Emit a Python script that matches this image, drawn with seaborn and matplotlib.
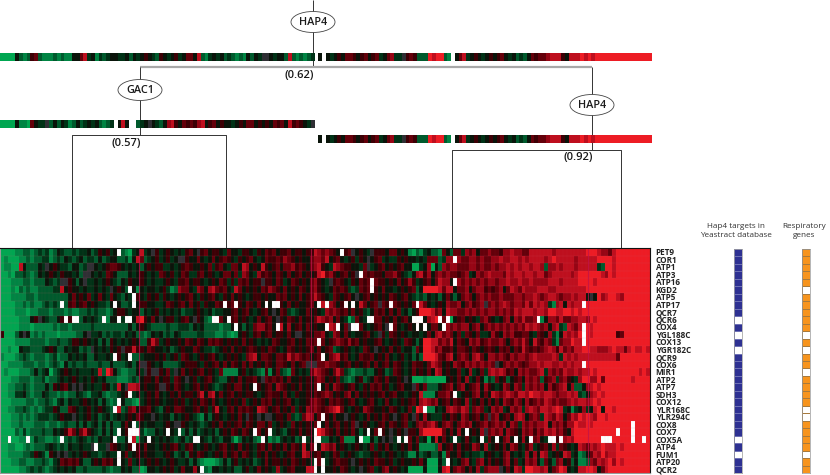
import numpy as np
import seaborn as sns
import matplotlib
matplotlib.use('Agg')
import matplotlib.pyplot as plt
from matplotlib.colors import ListedColormap
from matplotlib.patches import Ellipse

W, H = 830, 475

genes = ['PET9', 'COR1', 'ATP1', 'ATP3', 'ATP16', 'KGD2', 'ATP5', 'ATP17', 'QCR7', 'QCR6',
         'COX4', 'YGL188C', 'COX13', 'YGR182C', 'QCR9', 'COX6', 'MIR1', 'ATP2', 'ATP7', 'SDH3',
         'COX12', 'YLR168C', 'YLR294C', 'COX8', 'COX7', 'COX5A', 'ATP4', 'FUM1', 'ATP20', 'QCR2']

hap4_targets = [1,1,1,1,1,1,1,1,1,0,1,0,1,0,1,1,1,1,1,1,1,1,1,1,1,0,1,0,1,1]
respiratory  = [1,1,1,1,1,0,1,1,1,1,1,0,1,0,1,1,0,1,1,1,1,0,0,1,1,1,1,0,1,1]

# expression read by eye, one letter per cell, a=strong green ... 0=black ... i=strong red
levels = 'abcd0nefghi'
colors = ['#00a651', '#008443', '#005a2d', '#003216', '#0a140a', '#2f2f34',
          '#3c0005', '#64000a', '#960514', '#be0f1e', '#ed1c24']

expr_rows = [
 'aaaabbccbc dcdbc0dccd cdd0cde0ed 0ccbad0hd0 ned0e0d0de f0nef0ee0d f00dee0de0 fef0eef0ee 0eehgfgfe0 fefn0e0dne ee0ff0e0ba cbd0ccbf0c ffdgfg0ffg ffegghggff hhhhhhghhh hhhhhiiihg gfhiiiiiii ii',
 'abaaabbcbc cddbcdc0dc d0cddc0cd0 0ccdb0hfcd 0ed0ed0nne 00f0d0f0ef e0de0ef0d0 feefegfe0e 00fggfh0ef 0d0ede0n0e fd0dde0e00 d0dfffcdgg fgffggfgff gghgghhghg hhhhghihhh hhghhhhhii iihiiiiiii ii',
 'abbaah0ccc 0dn0e0ddc0 0cdnn0d0ef fe0d0d0c0e 0eedd0d0ef e00e0fdef0 dff0hg0e0h e0ef0ffgef e0fghe0dhg fee00dfnd0 ef0e0ef00a ad0ga0cgfg gfffggfgff gfgghghghh ghhgcgghgh hhghhhhhdc iihiiiiiii ii',
 'aabaccdcbc 0d0e0de00d 0cnn0d0dfe 0ccc0d0e0d 0dfe0ed0fe ddef0e0d0f f0fdgf0dge fe0fe0f0ef 0e0ehifge0 ef0en0fefe e0ffge0dc0 gheg0fgfgf fefgd0gfgh gggfhghhgh hghhfghhhh hghiiiiiih gihiiiiiii ii',
 'aaabbbccbc cc0dcdnne0 c0ndd0d0e0 dc0de00e0d 0dd0e0deef 0ee0d0e0fe dedfef0een ee0fed0fe0 e0fge0dnef e0de0fef0f ee0e0f0ege d0ef0fhgg0 ggfgfgfgfg gfgghgghgg hgggghhhgh hhhiiiihii iiiiiiiiii ii',
 'aaabacbcbb ccccddh0e0 0d0dd0d0dn 0e0c00b0d0 0d0edbcgff 0dgf0ghfef 0dhf0e0e0f egfe0f0e0f e0fge0d0fe fedcdfef0e 0f00d0e0ef c0iiiihfhh 0ffg0fggef efg0fhgfhg gghhhgghhh hhhhhiiiii iiiiiiiiii ii',
 'aaabbbbccb cccccccc0f 0e0fd0f0df 0dc0dge0de 0ede0d0e0e f0de0ef0de 0f0e0d0ee0 e00fef0e0f 0efhfe0dfe 0ef0n0ef0e 0e0fe0ef0d cdc0d0c0f0 c0fgf0fgfg ffgfffggfg ghgfghhgfg ghghh0n0ig hiihgiiiii ii',
 'aaaabbcbcb bcdcdcdcef 0ef0e0ddc0 00ccd00ee0 0dd0fe0ef0 f0ede00fe0 ef0e0fe0f0 e0f0e0f0e0 0ef0ghfgf0 ee0f0hf0ef nfe0fe0e0f ehf0d0e0gf fg0fgefgnf gfghgfggfh fhghgdbgh0 hghhiiiiii iiiiiiiiii ii',
 'aaaabbbabb cccbcccbcb bccdcdccbc 0ee0d00c0d 0ed0d0d0cd d0e0d0cdd0 0ef0ef0d0e f0n0fedcd0 0f0e0dgfgf ef0f0edc0f ef0f0fd0c0 eiiihfg0hg gffgfgfgfg gfgfgfhghh hghhgiihhi ihihiiiiii iiiiiiiiii ii',
 'aaaaabbb0e n0dcc0e0e0 dc0d0dcbb0 0dd0b0hie0 f0n0eed0ef 0ne0cb0cf0 0ef0e0d0f0 ef0ne0fe0f 0e0fhgfg0f 0dacf0d0ff f0e0f0ef0b bc0ghi0fga 0ef0e0dfge 0d0fg0gfhf fgab0ggfhf fgghhgihii iiiiiiiiii ii',
 'aaaaabbbab bbbbcbccbc ccccdccccc cccc0c0e0d ccccdccddd c0d0ccccbc c0d0c0dfgg ef0eh0g0ef 0f0e00ghge 0fnfgf0d0e f0n0f0d0e0 d0e0ff0dgf gfgg0fg0fg fgfgfgfgfh ghgfg0ghdc hgfhhihiii iiiiiiiiii ii',
 'eaaac0n0bc bcbbbabbbb cc0ndd0cdc ddc0d0ccbc 0d0cdc0dcc ccddcccbbc bab0e0def0 ef0ee0f0nn 0e0ffg0dgf 0f0d00ef0d nedfe0e0d0 0d0f0ghfgf 0fdfe0fdd0 ge0gfgeeff 0dfe0gdb0h ghgihihiii iiiefiiiii ii',
 'aaaabbbbcc ccbccdccde e0e0d0c0ce 0d0d0e0cce hfd0e00e0f e0fe0fefe0 e0e0f0e0d0 d0fe00ef0e 0fefhf0efg fegef0e00e f0d0e0dfe0 c0iihhfgfh 0fe0gfgefg ffgf0fgfhf 0hfegfdbfg gihhiiiiii iiiiiiiiii ii',
 'aabaa0ddcc cd0e0cc0d0 0cdcn0d0de 0eneehee0f e00d0cd0e0 0fe0ddcd0e 0f0e0efe0e 0fe0d0fe0e 0ef0f0efcd 0e0d0dfe0n 0e0f0ed00c f0iihfgeef 0ffe0fe0ef e0fef0fehf efefghgehf gfhhiihhgg ghihhfhihh ih',
 'baaabcdcbc ccbcdbcc0d 0d0cc0dd0d 0ed0cccd00 0e0ed0edfe 0d0e0ef0d0 e0e0dfgh0f fe0ffehfgf ef0efe0fgh ef0d0feef0 e0f0d0ed0c 0ciiihfegh 0fgf0ghf0g gfgfegfggf ghgggghgdh ghghhhhhhh hhhfiiiiii ii',
 'aabbbbcccb ccbcdcb0cd ccdcccdcc0 cccd0c0nne 0d0ccccd0e ee0de0ef0f 0fe0f0f0e0 fe0ffe0f0e fnnnffgffe 0ef0e0ef0f 0ef0fe0d0f ee0fhgf0e0 gfegfgfgfg fn0fgfgfef gghghhgghg hghhhiiiii iiiiiiiiii ii',
 'abaaabbbc0 cd0acd0e0d 0ddd0dhcig 0cbbcc0dne nne0fdn0f0 e0ef0e0dfb bbb0ed0dcb eb0fdcbf0d 0dfhgfe0fh fdcbccdcc0 e0cdfe0d0f 0e0f0hg0e0 0fd0gd0fdg hghgef0gfg ffghdgfgfh gghghhihii iiiiiiiiih ih',
 'aaabbcccbc cdbccd0d0e 0d0de0d0cc cbbbcdc0ee 0f0eedfe0n 0ed0ef0dcc 0e0f0eef0n fefef0f00e 0e0fgf0e0f dcbc0ecd0f e0f00e0n0a aabaaaaa0e 0f0gd0f0bd cf0ec0ef0g fgfcefgdfg e0dgiiggif iiiiiiihii ii',
 'aabbccdcbc cc0ce0ef0n 0n0d0dde0c dh0nhhg0e0 0enne0fe0d 0ef0e0dcd0 e0ff0e0fe0 ef0gfe0e0f 0e0fe0f0gf e0ef0de0fe f0ed0ef00n f0fccc0efg 0fg0efg0ge 0d0gf0gfdg fgfg0gefgh 0gcc0ghihi iiiiiiiiii ii',
 'aabbdd0cbc c0dccbcbcc 0dcbdd0cbc cd0e0d0d0e 0f0d0e0f0e e0fh0gh0f0 ef0e0ee0d0 efee0f0de0 0e0fefgf0e 0fg0f0e0e0 ef0ef00d0e 0hbbb0ffge gd0e0fg0f0 hgfghgfhhg ihhghhgfgg hghdc0ghih iiiiiiiiii ii',
 'aaabbbbccb ccdcbd0c0d d0e0d0c0cb cc0ccbad0e 0e0d00e0ed 0e0fe0f0d0 e0e0fd0e0f ef0e0ef0d0 0efgfe0fef e0ef0d0ef0 d0f0d0e0ef 0ghgfg0ef0 fe0gde0f0f 0f0gfegf0g efgfhgfgff ghghhghihi iiiiiiiiii ii',
 'aabbccdcbc bcdde0ccfe 0d0ed0e0dc 0hcdfg0eef 0dc0e0ffe0 0ef0edeh0d ef0fefe0hg f0ef0e0fde 0gfgfefghi f0d0e0gfe0 0e0fe0d0fd ihcbb0d0gh gfhgdfgfd0 gfgd0gfgdg hgfhhghihd 0bd0gd0hi0 iihiiiiiii ii',
 'aaabbcbcbc dddcd0e00n 0d0ed0cd0c d0d0e0fe00 n0d00c0d0e 0dcb0c0e0d 0e0f0ne0n0 nn0ee0fdcd fhg0fge0f0 0n0e0d0f0e 0fe0n0ef0n f0g0ddde0f e0gf0ef0fn fg0ef0ghg0 fgfdhgfhg0 fhgihihgii hiiiiiiiii ii',
 'aaabbcbbbc ccbccbcdcc 0c0cd0c0c0 cc0f0hc0d0 0dd0e0nne0 d0dcd0e0f0 e0ef0fe0ff 0fd0e0df0e 0e0fg0f0ef 0e0fn0e0d0 ef0fe0efd0 fgfghf0fgf 0fgfg0efge fgfg0gfdgf gfggh0gfge ggihhihiii iiiiiiiiii ii',
 'aaaacbdbcc cdcc0d0ehf 0fhe0dc0c0 cc0ehg0dbc c0d0c0d0c0 c0cd0d0c0e 0fe0fe0ef0 e0d0dc0e0f 0e0iihfe0f 0e0f0c0d0f 0e0n0e0nee 0giiiiif0f 0g0f0e0gnf gfg0gfe0gf gegfhghfge 0hiiiiiiii iiiiiiiiii ii',
 'aaaaabbcbd ccbbcb0cdc d0dcdc0dd0 ccc0bhad0n 0d0d0dcd0c d0c0dc0dc0 0cac0d0cbd 0bcbd0d0cd 0d0e0cc0d0 fbbb0baa0c 0n0nd0d0f0 fd0a0h0f0d 0d0f0d0fdf 0d0fg0f0g0 0fg0dd0e0g hgiiiiiiii iiiiiiiiii ii',
 'aabbaabcbc ccd0dcdc0d d0ddn0ddnf e0d0efe0f0 0d0e0ef0de f0d0e0d0ef 0e0f0e0def 0f0e0f0fe0 h0fe0hgfg0 e0d0e0d0fd e0f0d0e0f0 ebbbbcg0ef 0f0e0gf0gd 0e0f0gf0de gd0ef0gdfe 0d0hgfhghi hhhihiiiii ii',
 'aabbbbccde 0dbe0n0nd0 d0e0ddcd0d dd0fd0e0e0 0dd0e0cd0c e0fe0d0e0f 0ef0fe0de0 f0e0d0ef00 hg0ef0d0fe d0e0dcdd0e 0d0e0d0dbb 0cd0cc0bf0 0f0d0ddc0e 0d0fg0d0dg 0g0hgd0e0h gd0bc0fhgi ghhiiiiiii ii',
 'aaabbccbbc cdcbd0fefe f0cc0e0fef 0h0dfd0d0e 0e0d0e0dd0 c0cbaaabc0 c0ed0d0cd0 f0ee0e0fe0 e0dcf0d0ef ee0n0e0e0f ee0ed0e00e 0f0aaa0c00 d0fg0dfg0f 0e0fg0fd0g fg0cf0cfg0 ec0bbcgfhg higihiiiii ii',
 'aaaaabbcdc dcbcd0d0d0 ccdccccdcb cc0d0ccab0 0d0e0ed0f0 0g0ccb00d0 d0cc0ed0f0 e0dgd0ef00 0hhe0f00e0 fe0d0n0efd 0fg0e0d0aa aa0aaa0hi0 fgf0f0gdfg ggn0f0hgdi ihhgh0fgih 0d0hhiih0f hiiiiiiiii ii',
]

# row -> columns left blank in the heatmap
missing_cells = {
 0: [31, 90], 1: [120], 3: [95], 4: [98, 120], 5: [34, 98], 6: [35],
 7: [16, 30, 35, 59, 62, 70, 72, 73, 84, 86, 91, 93, 103, 110, 154],
 9: [17, 19, 20, 27, 31, 33, 34, 56, 57, 60, 97, 98, 109, 110, 111, 116, 118, 142],
 10: [62, 73, 86, 89, 93, 94, 103, 110, 112, 117, 154], 11: [154], 12: [84, 154],
 14: [30, 34, 85], 15: [154], 18: [67, 84], 19: [34, 120], 20: [31], 21: [30, 112],
 22: [85], 23: [35, 84, 167],
 24: [31, 34, 35, 36, 44, 47, 67, 71, 83, 97, 100, 123, 163, 167],
 25: [2, 7, 16, 30, 34, 39, 51, 52, 69, 80, 83, 84, 95, 105, 107, 120, 127, 131, 136, 140,
      145, 146, 148, 159, 160, 161, 167, 170],
 26: [25, 35, 83], 27: [31], 28: [31, 83, 85, 118], 29: [53, 83, 85],
}

# cluster averages, '.' is a gap
strip_all = ('aaaa0cbcef cbbbcbcbb0 0fhd0bdcd0 0dd0c0d0e0 dce0d0ed0f f0hcbd0d0c dcbcb0c0dn n0d00chcbc '
             'bcd.0.0d0e 0ffe0ef0ef d0fgddnefe cccihiicb. 0fhd0e0d0e 0ef0d0cdc0 feffghhhe0 hhhihihiii iiiiiiiiii ii')
strip_gac1 = ('aaaa0bbaf0 ddnc0c0dbc 0cd0d0cbcd .0h0..cd0n 0dc0ghe0fe fegh0ef0e0 0d0e0ff0e0 e0fef0hefe 0dn')

cut_cols = [36.7, 82.4, 155.7]


def decode(text):
    out = []
    for ch in text.replace(' ', ''):
        out.append(np.nan if ch == '.' else levels.index(ch))
    return out


def px_axes(fig, x0, y0, x1, y1):
    return fig.add_axes([x0 / W, 1 - y1 / H, (x1 - x0) / W, (y1 - y0) / H])


def strip(fig, vals, x0, y0, x1, y1):
    ax = px_axes(fig, x0, y0, x1, y1)
    sns.heatmap(np.array([vals]), ax=ax, cmap=cmap, vmin=-0.5, vmax=len(levels) - 0.5,
                cbar=False, xticklabels=False, yticklabels=False)
    return ax


def node(ax, x, y, name):
    ax.add_patch(Ellipse((x, y), 44, 21, fc='white', ec='#444444', lw=0.6, zorder=3))
    ax.text(x, y + 0.3, name, ha='center', va='center', fontsize=7.8, color='#1a1a1a',
            fontweight='semibold', zorder=4)


sns.set_style('white')
plt.rcParams['font.family'] = ['Open Sans', 'DejaVu Sans']
cmap = ListedColormap(colors)

fig = plt.figure(figsize=(W / 100, H / 100), dpi=100)

# overlay in pixel coordinates for the tree
tree = fig.add_axes([0, 0, 1, 1])
tree.set_xlim(0, W)
tree.set_ylim(H, 0)
tree.axis('off')

line = dict(color='#333333', lw=0.7, solid_capstyle='butt')
tree.plot([313, 313], [0, 67], **line)
tree.plot([140, 592], [67, 67], color='#a8a8a8', lw=1.6, solid_capstyle='butt')
tree.plot([140, 140], [67, 135], **line)
tree.plot([592, 592], [67, 150], **line)
tree.plot([72, 72, 226, 226], [248, 135, 135, 248], **line)
tree.plot([452, 452, 621, 621], [248, 150, 150, 248], **line)
node(tree, 313, 22, 'HAP4')
node(tree, 140, 90, 'GAC1')
node(tree, 592, 105, 'HAP4')
for x, y, s in [(299, 76, '(0.62)'), (126, 143, '(0.57)'), (578, 158, '(0.92)')]:
    tree.text(x, y, s, ha='center', va='center', fontsize=8, color='#1a1a1a', fontweight='semibold')
tree.text(735.5, 231, 'Hap4 targets in\nYeastract database', ha='center', va='center',
          fontsize=5.9, color='#333333', linespacing=1.35)
tree.text(804, 231, 'Respiratory\ngenes', ha='center', va='center', fontsize=5.9,
          color='#333333', linespacing=1.35)

# strips
top_vals = decode(strip_all)
strip(fig, top_vals, 0, 53, 652, 61)
strip(fig, decode(strip_gac1), 0, 120, 314.6, 128)
strip(fig, top_vals[84:], 318.4, 135, 652, 143)

# main heatmap
expr = np.array([decode(r) for r in expr_rows], dtype=float)
for r, cols in missing_cells.items():
    expr[r, cols] = np.nan

ax = px_axes(fig, 0, 248, 650, 473)
ax.set_facecolor('white')
sns.heatmap(expr, ax=ax, cmap=cmap, vmin=-0.5, vmax=len(levels) - 0.5, cbar=False,
            xticklabels=False, yticklabels=genes)
ax.yaxis.tick_right()
ax.tick_params(axis='y', length=0, pad=4)
ax.set_yticklabels(genes, rotation=0, fontsize=5.9, fontweight='bold', color='#222222')
ax.set_ylabel('')
# faint cell borders, strongest on the red end
ax.hlines(np.arange(1, len(genes)), 0, expr.shape[1], color='#d06070', lw=0.3, alpha=0.35)
ax.vlines(np.arange(1, expr.shape[1]), 0, len(genes), color='#d06070', lw=0.2, alpha=0.2)
for c in cut_cols:
    ax.axvline(c, color='#c0134a', lw=0.8, alpha=0.75)
for name, sp in ax.spines.items():
    sp.set_visible(True)
    sp.set_linewidth(0.8)
    sp.set_color('#111111' if name in ('top', 'right') else '#999999')

# annotation columns
for vals, col, edge, x0, x1 in [(hap4_targets, '#2e3192', '#6d70b5', 734, 742),
                                (respiratory, '#f7941d', '#a87a3c', 802, 810)]:
    a = px_axes(fig, x0, 249, x1, 473)
    sns.heatmap(np.array(vals).reshape(-1, 1), ax=a, cmap=ListedColormap(['white', col]),
                vmin=0, vmax=1, cbar=False, xticklabels=False, yticklabels=False,
                linewidths=0.4, linecolor=edge)
    for sp in a.spines.values():
        sp.set_visible(True)
        sp.set_linewidth(0.5)
        sp.set_color('#999999')

fig.savefig('out.png', dpi=100)
